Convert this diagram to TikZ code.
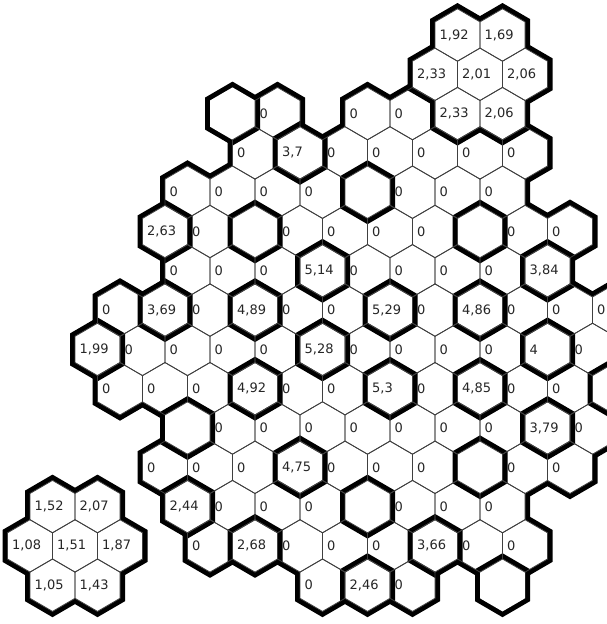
\documentclass[tikz,border=0pt]{standalone}
\usepackage{fontspec}
\newfontfamily\valfont{DejaVu Sans}
\usetikzlibrary{positioning}
\tikzset{
  rim/.style={draw=black,line width=10pt,line join=miter},
  blank/.style={fill=white},
  gridline/.style={draw=black!75,line width=0.8pt},
  val/.style={anchor=west,inner sep=0pt,text=black!85,font={\valfont\fontsize{13}{15}\selectfont}}
}
% one cell: row #1, column #2 (half steps)
\newcommand\hexpath[2]{({75+22.5*(#2)},{35+39.3*(#1)-26.2}) -- ++(22.5,13.1) -- ++(0,26.2) -- ++(-22.5,13.1) -- ++(-22.5,-13.1) -- ++(0,-26.2) -- cycle}
\newcommand\zerocells{2/9,2/13,2/15,
 3/8,3/12,3/14,3/16,3/18,3/20,
 4/5,4/7,4/9,4/11,4/15,4/17,4/19,
 5/6,5/10,5/12,5/14,5/16,5/20,5/22,
 6/5,6/7,6/9,6/13,6/15,6/17,6/19,
 7/2,7/6,7/10,7/12,7/16,7/20,7/22,7/24,
 8/3,8/5,8/7,8/9,8/13,8/15,8/17,8/19,8/23,
 9/2,9/4,9/6,9/10,9/12,9/16,9/20,9/22,
 10/7,10/9,10/11,10/13,10/15,10/17,10/19,10/23,
 11/4,11/6,11/8,11/12,11/14,11/16,11/20,11/22,
 12/7,12/9,12/11,12/15,12/17,12/19,
 13/6,13/10,13/12,13/14,13/18,13/20,
 14/11,14/15}
% cells with their own thick rim: values and the two flowers
\newcommand\owncells{3/10/{3,7},5/4/{2,63},6/11/{5,14},6/21/{3,84},
 7/4/{3,69},7/8/{4,89},7/14/{5,29},7/18/{4,86},
 8/1/{1,99},8/11/{5,28},8/21/4,
 9/8/{4,92},9/14/{5,3},9/18/{4,85},10/21/{3,79},11/10/{4,75},
 12/5/{2,44},13/8/{2,68},13/16/{3,66},14/13/{2,46},
 0/17/{1,92},0/19/{1,69},1/16/{2,33},1/18/{2,01},1/20/{2,06},2/17/{2,33},2/19/{2,06},
 12/-1/{1,52},12/1/{2,07},13/-2/{1,08},13/0/{1,51},13/2/{1,87},14/-1/{1,05},14/1/{1,43}}
\newcommand\emptycells{2/7,4/13,5/8,5/18,9/24,10/5,11/18,12/13,14/19}
\begin{document}
\begin{tikzpicture}[x=1pt,y=-1pt]
\useasboundingbox (0,0) rectangle (607,624);
\clip (0,0) rectangle (607,624);
\fill[white] (0,0) rectangle (607,624);
% outer rim of the big field
\foreach \r/\k in \zerocells {\path[rim] \hexpath\r\k;}
\foreach \r/\k in \zerocells {\path[blank] \hexpath\r\k;}
% rims round single cells and flowers
\foreach \r/\k/\t in \owncells {\path[rim] \hexpath\r\k;}
\foreach \r/\k in \emptycells {\path[rim] \hexpath\r\k;}
\foreach \r/\k/\t in \owncells {\path[blank] \hexpath\r\k;}
\foreach \r/\k in \emptycells {\path[blank] \hexpath\r\k;}
% thin borders
\foreach \r/\k in \zerocells {\path[gridline] \hexpath\r\k;}
\foreach \r/\k/\t in \owncells {\path[gridline] \hexpath\r\k;}
% values
\foreach \r/\k in \zerocells {\node[val] (z\r-\k) at ({75+22.5*(\k)-18},{35+39.3*(\r)}) {0};}
\foreach \r/\k/\t in \owncells {\node[val] (v\r-\k) at ({75+22.5*(\k)-18},{35+39.3*(\r)}) {\t};}
\end{tikzpicture}
\end{document}
